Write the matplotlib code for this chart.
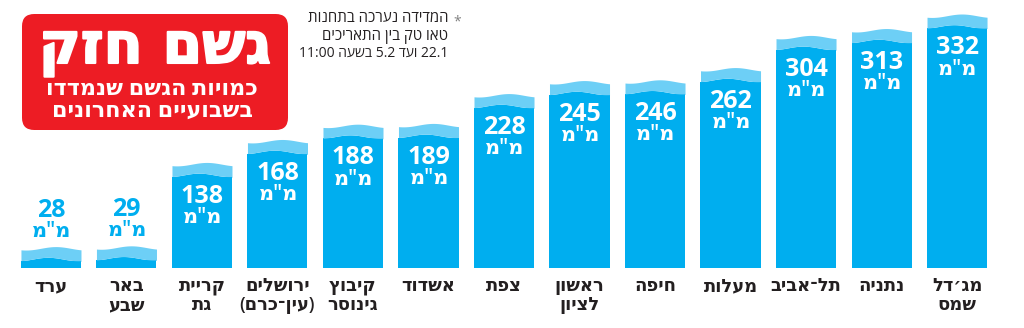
import numpy as np
import matplotlib
matplotlib.use("Agg")
import matplotlib.pyplot as plt
from matplotlib.patches import FancyBboxPatch
import matplotlib.patheffects as pe

# data, left to right as drawn
cities = ["ערד", "באר\nשבע", "קריית\nגת", "ירושלים\n(עין־כרם)", "קיבוץ\nגינוסר", "אשדוד",
          "צפת", "ראשון\nלציון", "חיפה", "מעלות", "תל־אביב", "נתניה", "מג׳דל\nשמס"]
rain_mm = [28, 29, 138, 168, 188, 189, 228, 245, 246, 262, 304, 313, 332]
unit = 'מ"מ'

title = "גשם חזק"
subtitle = ["כמויות הגשם שנמדדו", "בשבועיים האחרונים"]
note = ["המדידה נערכה בתחנות", "טאו טק בין התאריכים", "22.1 ועד 5.2 בשעה 11:00"]

BLUE = "#00aeef"
LIGHT = "#6dcff6"
RED = "#ed1c24"
DARK = "#231f20"
FONT = ["Open Sans", "DejaVu Sans"]


def has_heb(s):
    return any("\u0590" <= ch <= "\u05ff" for ch in s)


def rtl(line):
    # matplotlib has no bidi, so put hebrew into visual order by hand
    out = []
    for w in line.split(" ")[::-1]:
        if has_heb(w):
            w = w[::-1].translate(str.maketrans("()", ")("))
        out.append(w)
    return " ".join(out)


def rtl_lines(s):
    return "\n".join(rtl(l) for l in s.split("\n"))


fig = plt.figure(figsize=(10.24, 3.28), dpi=100)
ax = fig.add_axes([0, 0, 1, 1])
ax.set_xlim(-0.675, 12.887)
ax.set_ylim(-78.4, 350.3)
ax.axis("off")

x = np.arange(len(rain_mm))
vals = np.array(rain_mm, dtype=float)
w = 0.795
band = 14.0
amp = 4.5

ax.bar(x, vals - band - amp, width=w, color=BLUE, linewidth=0)
t = np.linspace(0, 1, 60)
for xi, v in zip(x, vals):
    xs = xi - w / 2 + t * w
    top = v - amp * (1 - np.cos(2 * np.pi * (t - 0.58))) / 2
    low = v - band - amp * (1 - np.cos(2 * np.pi * (t - 0.45))) / 2
    ax.fill_between(xs, v - band - amp - 0.5, low, color=BLUE, linewidth=0)
    ax.fill_between(xs, low, top, color=LIGHT, linewidth=0)

for xi, v, city in zip(x, rain_mm, cities):
    if v < 60:
        ax.text(xi, v + 47, str(v), ha="center", va="center", color=BLUE,
                fontsize=18, fontweight="bold", family=FONT)
        ax.text(xi, v + 20, rtl(unit), ha="center", va="center", color=BLUE,
                fontsize=15, fontweight="semibold", family=FONT)
    else:
        ax.text(xi, v - 44, str(v), ha="center", va="center", color="white",
                fontsize=18, fontweight="bold", family=FONT)
        ax.text(xi, v - 72, rtl(unit), ha="center", va="center", color="white",
                fontsize=15, fontweight="semibold", family=FONT)
    ax.text(xi, -12, rtl_lines(city), ha="center", va="top", color=DARK,
            fontsize=13, fontweight="semibold", family=FONT, linespacing=1.05)


def fx(px):
    return px / 1024


def fy(py):
    return 1 - py / 328


box = FancyBboxPatch((fx(22), fy(130)), fx(266), 116 / 328,
                     boxstyle="round,pad=0,rounding_size=0.012",
                     transform=fig.transFigure, facecolor=RED, edgecolor="none",
                     mutation_aspect=3.1)
fig.patches.append(box)
fig.text(fx(155), fy(49), rtl(title), ha="center", va="center", color="white",
         fontsize=41, fontweight="heavy", family=["DejaVu Sans"],
         path_effects=[pe.withStroke(linewidth=1.5, foreground="white")])
fig.text(fx(152), fy(89), rtl(subtitle[0]), ha="center", va="center", color="white",
         fontsize=16, fontweight="semibold", family=FONT)
fig.text(fx(152), fy(111), rtl(subtitle[1]), ha="center", va="center", color="white",
         fontsize=16, fontweight="semibold", family=FONT)

for i, line in enumerate(note):
    fig.text(fx(448), fy(19 + 17 * i), rtl(line), ha="right", va="center", color=DARK,
             fontsize=10.8 if i < 2 else 10, family=FONT)
fig.text(fx(457), fy(22), "*", ha="center", va="center", color="#808080",
         fontsize=10, family=FONT)

fig.savefig("out.png", dpi=100)
